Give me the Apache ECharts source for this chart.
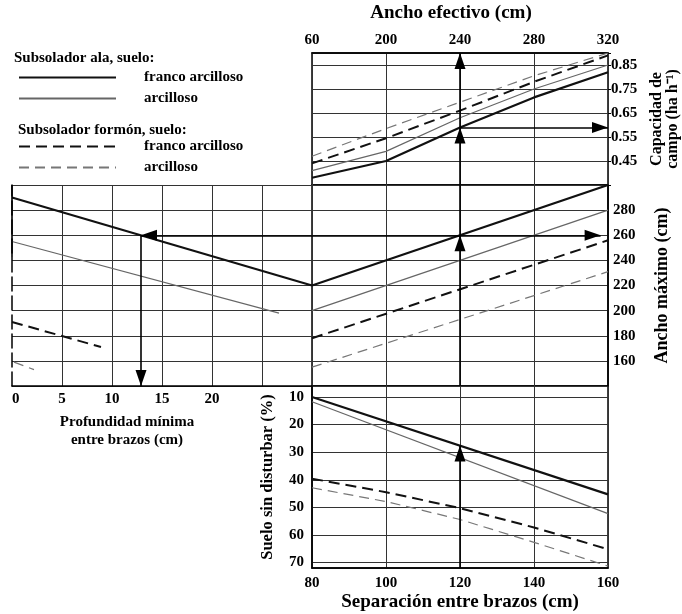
<!DOCTYPE html>
<html>
<head>
<meta charset="utf-8">
<script src="https://cdn.jsdelivr.net/npm/echarts@6/dist/echarts.min.js"></script>
<style>
  html, body { margin: 0; padding: 0; background: #fff; }
  #chart { width: 682px; height: 614px; }
</style>
</head>
<body>
<div id="chart"></div>
<script>
// ancho efectivo (top axis, uneven steps so kept as categories)
const efectivoCats = ["60", "200", "240", "280", "320"];
// capacidad de campo (ha/h) per ancho efectivo
const capAlaFranco = [0.38, 0.45, 0.59, 0.715, 0.82];
const capAlaArc = [0.41, 0.49, 0.63, 0.75, 0.85];
const capFormFranco = [0.44, 0.545, 0.66, 0.78, 0.89];
const capFormArc = [0.47, 0.585, 0.695, 0.805, 0.9];

// ancho maximo (cm) vs profundidad minima entre brazos (cm)
const profAlaFranco = [[0, 290], [30, 220]];
const profAlaArc = [[0, 255], [26.7, 198]];
const profFormFranco = [[0, 191], [8.9, 171]];
const profFormArc = [[0.2, 159], [2.2, 153]];

// ancho maximo (cm) vs separacion entre brazos (cm)
const anchoAlaFranco = [[80, 220], [160, 300]];
const anchoAlaArc = [[80, 200], [160, 280]];
const anchoFormFranco = [[80, 178], [160, 256]];
const anchoFormArc = [[80, 155], [160, 231]];

// suelo sin disturbar (%) vs separacion entre brazos (cm)
const sepX = [80, 100, 120, 140, 160];
const sueloAlaFranco = [[80, 10], [160, 45.3]];
const sueloAlaArc = [[80, 11.7], [160, 52.3]];
const sueloFormFranco = [39.6, 44.5, 50.3, 57.3, 65.2];
const sueloFormArc = [42.9, 47.9, 54.4, 62.7, 71.3];

// worked example
const ejSep = 120;
const ejSuelo = 27.6;
const ejAncho = 260;
const ejProf = 12.9;
const ejEfectivo = "240";
const ejCap = 0.59;

const FONT = '"Liberation Serif", "Times New Roman", serif';
const txt = (size) => ({ fontFamily: FONT, fontWeight: "bold", fontSize: size, color: "#000" });

const styles = {
  alaFranco: { color: "#111", width: 2.2, type: "solid" },
  alaArc: { color: "#666", width: 1.2, type: "solid" },
  formFranco: { color: "#111", width: 2, type: [11, 6] },
  formArc: { color: "#777", width: 1.2, type: [10, 6] },
};
const names = {
  alaFranco: "ala franco",
  alaArc: "ala arcilloso",
  formFranco: "formon franco",
  formArc: "formon arcilloso",
};

function curve(key, data, idx) {
  return {
    name: names[key],
    type: "line",
    xAxisIndex: idx,
    yAxisIndex: idx,
    data: data,
    symbol: "none",
    silent: true,
    z: 3,
    lineStyle: styles[key],
    itemStyle: { color: styles[key].color },
  };
}

// triangle whose tip sits at the centre of its box, so it ends right on the point
const HEAD = "path://M5,0M5,14L10,28L0,28Z";

function arrows(idx, segs, head) {
  return {
    type: "lines",
    coordinateSystem: "cartesian2d",
    xAxisIndex: idx,
    yAxisIndex: idx,
    symbol: head ? ["none", HEAD] : ["none", "none"],
    symbolSize: [[11, 32], [11, 32]],
    silent: true,
    z: 4,
    lineStyle: { color: "#000", width: 1.6, opacity: 1 },
    itemStyle: { color: "#000" },
    data: segs.map((s) => ({ coords: s })),
  };
}

const efIdx = efectivoCats.indexOf(ejEfectivo);
const split = { show: true, lineStyle: { color: "#333", width: 1 } };
const legendBase = {
  left: 13, orient: "vertical", itemWidth: 97, itemHeight: 14, itemGap: 6, selectedMode: false,
  itemStyle: { color: "rgba(0,0,0,0)", borderColor: "rgba(0,0,0,0)", borderWidth: 0, opacity: 0 },
  formatter: (n) => (n.indexOf("franco") >= 0 ? "franco arcilloso" : "arcilloso"),
  textStyle: { ...txt(15), lineHeight: 14, padding: [0, 0, 0, 23] },
};

const chart = echarts.init(document.getElementById("chart"));
chart.setOption({
  animation: false,
  backgroundColor: "#fff",
  grid: [
    { left: 312, top: 53, width: 296, height: 132, show: true, borderColor: "#000", borderWidth: 1.5 },
    { left: 12, top: 185, width: 300, height: 201 },
    { left: 312, top: 185, width: 296, height: 201, show: true, borderColor: "#000", borderWidth: 1.5 },
    { left: 312, top: 386, width: 296, height: 182, show: true, borderColor: "#000", borderWidth: 1.5 },
  ],
  xAxis: [
    {
      gridIndex: 0, type: "category", position: "top", data: efectivoCats, boundaryGap: false,
      axisLine: { lineStyle: { color: "#000", width: 1.5 } },
      axisTick: { show: false },
      axisLabel: { ...txt(15), margin: 5 },
      splitLine: split,
      name: "Ancho efectivo (cm)", nameLocation: "middle", nameGap: 30,
      nameTextStyle: { ...txt(19), padding: [0, 18, 0, 0] },
    },
    {
      gridIndex: 1, type: "value", min: 0, max: 30, interval: 5,
      axisLine: { lineStyle: { color: "#000", width: 1.5 } },
      axisTick: { show: false },
      axisLabel: { ...txt(15), margin: 6, alignMinLabel: "left", formatter: (v) => (v <= 20 ? String(v) : "") },
      splitLine: { ...split, showMinLine: false },
      name: "Profundidad mínima\nentre brazos (cm)", nameLocation: "middle", nameGap: 27,
      nameTextStyle: { ...txt(15), lineHeight: 18, padding: [0, 70, 0, 0] },
    },
    {
      gridIndex: 2, type: "value", min: 80, max: 160, interval: 20,
      axisLine: { show: false }, axisTick: { show: false }, axisLabel: { show: false },
      splitLine: split,
    },
    {
      gridIndex: 3, type: "value", min: 80, max: 160, interval: 20,
      axisLine: { lineStyle: { color: "#000", width: 1.5 } },
      axisTick: { show: false },
      axisLabel: { ...txt(15), margin: 8 },
      splitLine: split,
      name: "Separación entre brazos (cm)", nameLocation: "middle", nameGap: 25,
      nameTextStyle: txt(19),
    },
  ],
  yAxis: [
    {
      gridIndex: 0, type: "value", position: "right", min: 0.35, max: 0.9, interval: 0.1,
      axisLine: { lineStyle: { color: "#000", width: 1.5 } },
      axisTick: { show: true, length: 3, lineStyle: { color: "#000" } },
      axisLabel: { ...txt(15), margin: 3, formatter: (v) => (v < 0.4 || v > 0.87 ? "" : v.toFixed(2)) },
      splitLine: split,
      name: "Capacidad de\ncampo (ha h⁻¹)", nameLocation: "middle", nameRotate: 90, nameGap: 41,
      nameTextStyle: { ...txt(16), lineHeight: 16 },
    },
    {
      gridIndex: 1, type: "value", min: 140, max: 300, interval: 20,
      axisLine: { lineStyle: { color: "#000", width: 1.5, type: [14, 5] } },
      axisTick: { show: false }, axisLabel: { show: false },
      splitLine: split,
    },
    {
      gridIndex: 2, type: "value", position: "right", min: 140, max: 300, interval: 20,
      axisLine: { lineStyle: { color: "#000", width: 1.5 } },
      axisTick: { show: false },
      axisLabel: { ...txt(15), margin: 5, formatter: (v) => (v <= 140 || v >= 300 ? "" : String(v)) },
      splitLine: split,
      name: "Ancho máximo (cm)", nameLocation: "middle", nameRotate: 90, nameGap: 45,
      nameTextStyle: txt(18),
    },
    {
      gridIndex: 3, type: "value", inverse: true, min: 6, max: 72, minInterval: 10, maxInterval: 10,
      axisLine: { lineStyle: { color: "#000", width: 1.5 } },
      axisTick: { show: false },
      axisLabel: { ...txt(15), margin: 8, formatter: (v) => (v % 10 === 0 ? String(v) : "") },
      splitLine: split,
      name: "Suelo sin disturbar (%)", nameLocation: "middle", nameRotate: 90, nameGap: 36,
      nameTextStyle: txt(16.5),
    },
  ],
  legend: [
    { ...legendBase, top: 65, data: [names.alaFranco, names.alaArc] },
    { ...legendBase, top: 134, data: [names.formFranco, names.formArc] },
  ],
  graphic: [
    { type: "text", left: 14, top: 51, style: { text: "Subsolador ala, suelo:", font: 'bold 15px "Liberation Serif"', fill: "#000" } },
    { type: "text", left: 18, top: 123, style: { text: "Subsolador formón, suelo:", font: 'bold 15px "Liberation Serif"', fill: "#000" } },
  ],
  series: [
    curve("alaFranco", capAlaFranco, 0),
    curve("alaArc", capAlaArc, 0),
    curve("formFranco", capFormFranco, 0),
    curve("formArc", capFormArc, 0),

    curve("alaFranco", profAlaFranco, 1),
    curve("alaArc", profAlaArc, 1),
    curve("formFranco", profFormFranco, 1),
    curve("formArc", profFormArc, 1),

    curve("alaFranco", anchoAlaFranco, 2),
    curve("alaArc", anchoAlaArc, 2),
    curve("formFranco", anchoFormFranco, 2),
    curve("formArc", anchoFormArc, 2),

    curve("alaFranco", sueloAlaFranco, 3),
    curve("alaArc", sueloAlaArc, 3),
    curve("formFranco", sepX.map((x, i) => [x, sueloFormFranco[i]]), 3),
    curve("formArc", sepX.map((x, i) => [x, sueloFormArc[i]]), 3),

    // worked example path
    arrows(3, [[[ejSep, 72], [ejSep, ejSuelo]]], true),
    arrows(2, [[[ejSep, 140], [ejSep, ejAncho]], [[80, ejAncho], [158, ejAncho]]], true),
    arrows(2, [[[ejSep, ejAncho], [ejSep, 300]]], false),
    arrows(1, [[[30, ejAncho], [ejProf, ejAncho]], [[ejProf, ejAncho], [ejProf, 140]]], true),
    arrows(1, [[[0, 300], [0, 242]]], false),
    arrows(0, [[[efIdx, 0.35], [efIdx, ejCap]], [[efIdx, ejCap], [efIdx, 0.9]], [[efIdx, ejCap], [3.92, ejCap]]], true),
  ],
});
</script>
</body>
</html>
